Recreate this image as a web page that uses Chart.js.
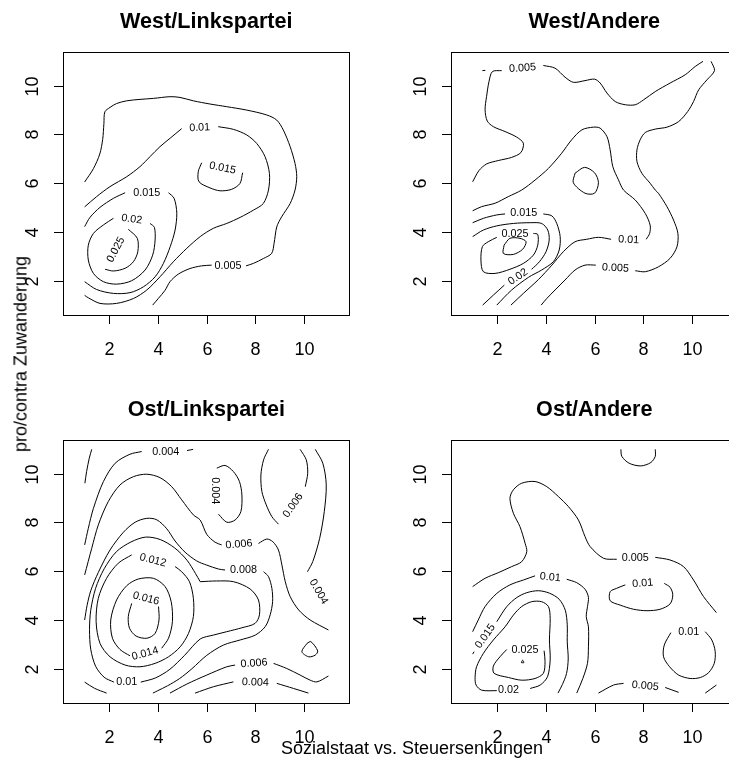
<!DOCTYPE html>
<html>
<head>
<meta charset="utf-8">
<script src="https://cdn.jsdelivr.net/npm/chart.js@4.4.0/dist/chart.umd.min.js"></script>
<style>
    html, body { margin: 0; padding: 0; background: #fff; }
    body { position: relative; width: 729px; height: 763px; overflow: hidden; }
    canvas { position: absolute; }
    .eje { position: absolute; font: 18px "Liberation Sans", Arial, sans-serif; color: #000; white-space: nowrap; }
</style>
</head>
<body>
<canvas id="p1" width="365" height="380" style="left:0;top:0"></canvas>
<canvas id="p2" width="385" height="380" style="left:365px;top:0"></canvas>
<canvas id="p3" width="365" height="383" style="left:0;top:380px"></canvas>
<canvas id="p4" width="385" height="383" style="left:365px;top:380px"></canvas>
<div class="eje" style="left:21px;top:354px;transform:translate(-50%,-50%) rotate(-90deg)">pro/contra Zuwanderung</div>
<div class="eje" style="left:412px;top:748px;transform:translate(-50%,-50%)">Sozialstaat vs. Steuersenkungen</div>
<script>
// ─────────────────────────────────────────────
//  Datos: curvas de nivel
//  [x, y] en unidades de los ejes, null = corte (etiqueta)
// ─────────────────────────────────────────────
const xTicks = [2, 4, 6, 8, 10];
const yTicks = [2, 4, 6, 8, 10];
const titles = ['West/Linkspartei', 'West/Andere', 'Ost/Linkspartei', 'Ost/Andere'];

// West/Linkspartei
const wl005 = [[1.0,6.05],[1.36,6.6],[1.62,7.2],[1.74,7.8],[1.79,8.45],[1.83,8.93],[2.04,9.11],[2.31,9.27],[2.72,9.38],[3.27,9.44],[3.82,9.48],[4.50,9.55],[4.91,9.52],[5.46,9.38],[6.14,9.25],[6.83,9.14],[7.65,9.00],[8.47,8.80],[8.88,8.59],[9.15,8.18],[9.43,7.50],[9.63,6.81],[9.70,6.27],[9.63,5.72],[9.43,5.17],[9.08,4.62],[8.88,4.21],[8.77,3.53],[8.67,3.12],[8.33,2.91],[7.92,2.71],[7.62,2.61],null,[6.21,2.64],[5.80,2.61],[5.32,2.50],[4.84,2.27],[4.50,1.96],[4.30,1.61],[4.02,1.27],[3.79,1.0]];
const wl010 = [[1.0,5.03],[1.49,5.45],[2.04,5.86],[2.73,6.27],[3.27,6.68],[3.68,7.09],[4.09,7.50],[4.51,7.85],[4.98,8.24],null,[6.48,8.32],[7.10,8.21],[7.65,7.98],[8.06,7.63],[8.40,7.09],[8.58,6.40],[8.54,5.72],[8.33,5.17],[7.93,4.90],[7.38,4.60],[6.83,4.35],[6.28,4.15],[5.74,3.81],[5.19,3.33],[4.64,2.78],[4.09,2.16],[3.55,1.62],[3.00,1.27],[2.31,1.07],[1.63,1.07],[1.15,1.30],[1.0,1.4]];
const wl015a = [[1.0,4.22],[1.22,4.60],[1.63,5.01],[2.18,5.38],[2.66,5.61],null,[4.44,5.61],[4.67,5.38],[4.78,4.77],[4.71,4.08],[4.51,3.40],[4.23,2.71],[3.89,2.16],[3.41,1.75],[2.86,1.51],[2.18,1.48],[1.49,1.64],[1.0,1.96]];
const wl015b = [[5.80,6.84],[5.66,6.47],[5.69,6.06],[6.14,5.81],[6.55,5.69],[7.03,5.75],[7.37,5.99],[7.48,6.43]];
const wl020 = [[3.68,4.35],[3.86,4.19],[3.89,3.67],[3.79,3.05],[3.48,2.44],[2.93,2.00],[2.31,1.86],[1.77,1.96],[1.36,2.30],[1.15,2.85],[1.15,3.46],[1.36,3.94],[1.77,4.29],[2.18,4.56]];
const wl025 = [[2.79,4.11],[3.16,3.74],[3.18,3.19],[3.00,2.78],[2.66,2.51],[2.18,2.40],[1.84,2.47]];
const wlLabels = [['0.005',6.88,2.61,0],['0.01',5.72,8.28,-3],['0.015',3.55,5.60,0],['0.015',6.66,6.62,12],['0.02',2.93,4.52,8],['0.025',2.28,3.27,-62]];

// West/Andere
const wa005a = [[1.0,6.06],[1.26,6.52],[1.57,6.79],[2.05,6.93],[2.60,7.06],[2.98,7.26],[3.08,7.64],[2.81,7.89],[2.33,8.12],[1.85,8.32],[1.60,8.55],[1.51,9.01],[1.57,9.55],[1.67,10.17],[1.81,10.58],[2.19,10.62],null,[3.90,10.83],[4.38,10.72],[4.79,10.35],[5.13,10.14],[5.61,10.21],[6.00,10.27],[6.23,10.11],[6.51,9.70],[6.85,9.35],[7.26,9.22],[7.67,9.22],[8.01,9.42],[8.49,9.76],[9.10,10.11],[9.72,10.45],[10.13,10.79],[10.45,11.0]];
const wa005b = [[10.78,11.0],[10.92,10.62],[10.61,10.24],[10.27,9.83],[10.06,9.35],[9.82,8.94],[9.45,8.53],[8.97,8.30],[8.49,8.22],[8.08,8.08],[7.87,7.78],[7.74,7.37],[7.74,6.89],[7.94,6.41],[8.28,6.00],[8.49,5.72],[8.62,5.59],[8.97,5.04],[9.24,4.49],[9.42,3.94],[9.38,3.39],[9.10,2.92],[8.62,2.57],[8.08,2.37],[7.67,2.41],null,[6.05,2.64],[5.61,2.64],[5.20,2.44],[4.79,2.03],[4.38,1.62],[4.04,1.27],[3.81,1.0]];
const wa005c = [[1.40,10.62],[1.52,10.63]];
const wa010a = [[1.0,4.87],[1.37,5.04],[1.92,5.18],[2.46,5.45],[3.01,5.72],[3.56,6.13],[4.11,6.61],[4.65,7.23],[5.06,7.78],[5.48,8.19],[5.95,8.30],[6.23,8.26],[6.51,7.91],[6.64,7.37],[6.75,6.68],[6.98,6.14],[7.19,5.72],[7.67,5.31],[8.08,4.76],[8.28,4.28],[8.26,3.94],[8.12,3.70],null,[6.68,3.70],[6.16,3.78],[5.68,3.70],[5.20,3.60],[4.72,3.19],[4.25,2.64],[3.70,2.05],[3.08,1.48],[2.57,1.0]];
const wa010b = [[5.20,6.41],[5.59,6.65],[6.00,6.43],[6.16,6.02],[6.00,5.59],[5.61,5.59],[5.13,6.02],[5.20,6.41]];
const wa015 = [[1.0,4.38],[1.44,4.56],[1.99,4.70],[2.33,4.74],null,[3.90,4.74],[4.25,4.66],[4.45,4.35],[4.59,3.81],[4.55,3.26],[4.31,2.78],[3.83,2.44],[3.29,2.14],[2.60,1.62],[1.99,1.0]];
const wa020 = [[1.0,3.81],[1.44,4.08],[1.99,4.25],[2.67,4.35],[3.36,4.38],[3.83,4.35],[4.08,4.08],[4.14,3.67],[4.01,3.19],[3.74,2.78],[3.42,2.47],null,[2.30,1.82],[1.85,1.41],[1.41,1.0]];
const wa025 = [[3.49,3.94],[3.67,3.90],[3.67,3.46],[3.49,3.05],[3.08,2.71],[2.53,2.47],[1.92,2.30],[1.44,2.37],[1.34,2.85],[1.40,3.40],[1.64,3.60],[1.99,3.78]];
const wa030 = [[2.29,3.46],[2.26,3.12],[2.67,3.08],[3.05,3.29],[3.19,3.60],[2.94,3.74],[2.53,3.74],[2.29,3.46]];
const waLabels = [['0.005',3.05,10.72,-4],['0.015',3.10,4.77,0],['0.025',2.74,3.90,0],['0.01',7.40,3.68,3],['0.005',6.86,2.52,3],['0.02',2.86,2.16,-35]];

// Ost/Linkspartei
const ol002 = [[1.29,11.0],[1.19,10.64],[1.08,10.09],[1.01,9.61]];
const ol004a = [[1.0,7.08],[1.15,7.76],[1.36,8.58],[1.77,9.68],[2.25,10.43],[2.86,10.80],[3.34,10.91],null,[5.2,10.95],[5.45,11.0]];
const ol004b = [[6.49,8.34],[6.83,8.01],[7.17,8.10],[7.41,8.45],[7.45,9.13],[7.35,9.68],[7.10,10.09],[6.76,10.34],[6.42,10.23]];
const ol004c = [[10.46,11.0],[10.77,10.43],[10.91,9.54],[10.83,8.45],[10.64,7.35],[10.36,6.40],[10.14,5.98]];
const ol004d = [[5.53,1.0],[6.28,1.26],[7.10,1.46],null,[8.88,1.40],[9.57,1.19],[10.18,1.0]];
const ol006a = [[8.54,11.0],[8.34,10.57],[8.23,9.95],[8.27,9.27],[8.45,8.72],[8.68,8.24],[8.95,7.93],null,[10.05,9.47],[10.15,10.02],[10.09,10.57],[9.84,11.0]];
const ol006b = [[1.0,5.85],[1.29,6.94],[1.56,7.90],[1.97,8.86],[2.45,9.54],[3.00,9.88],[3.55,9.98],[4.09,9.84],[4.57,9.47],[4.98,8.93],[5.46,8.31],[5.74,8.10],[6.01,7.51],[6.35,7.19],[6.62,7.08],null,[8.13,7.14],[8.47,7.32],[8.72,7.21],[8.95,6.87],[9.09,6.26],[9.23,5.57],[9.43,4.96],[9.78,4.41],[10.25,4.00],[11.0,3.59]];
const ol006c = [[4.50,1.0],[5.19,1.37],[6.01,1.74],[6.83,2.08],[7.17,2.15],null,[8.75,2.22],[9.29,2.01],[9.84,1.74],[10.25,1.53],[10.53,1.46],[11.0,1.70]];
const ol006d = [[10.12,3.04],[10.28,3.11],[10.56,2.73],[10.46,2.56],[10.19,2.49],[9.91,2.70],[10.12,3.04]];
const ol008a = [[1.0,4.0],[1.1,4.6],[1.25,5.2],[1.56,5.95],[2.04,6.87],[2.59,7.60],[3.07,8.01],[3.55,8.17],[3.96,8.11],[4.37,7.74],[4.71,7.24],[5.12,6.78],[5.60,6.42],[6.01,6.25],[6.49,6.09],[6.76,6.05],null,[8.34,5.98],[8.54,5.78],[8.68,5.30],[8.71,4.75],[8.61,4.21],[8.41,3.73],[8.00,3.38],[7.38,3.18],[6.69,2.97],[6.01,2.55],[5.4,2.0],[4.9,1.6],[4.4,1.3],[4.0,1.1],[3.8,1.0]];
const ol008b = [[1.0,1.45],[1.4,1.2],[1.9,1.0]];
const ol010 = [[5.74,5.57],[5.55,5.9],[5.2,6.45],[4.7,6.95],[4.1,7.3],[3.5,7.4],[2.9,7.2],[2.3,6.8],[1.8,6.1],[1.45,5.3],[1.25,4.4],[1.2,3.6],[1.25,2.8],[1.45,2.1],[1.8,1.65],[2.2,1.45],null,[3.3,1.45],[3.9,1.62],[4.5,1.98],[5.1,2.55],[5.74,3.22],[6.28,3.38],[6.83,3.52],[7.45,3.68],[7.99,3.86],[8.17,4.21],[8.13,4.82],[7.79,5.27],[7.11,5.57],[6.4,5.6],[5.74,5.57]];
const ol012 = [[4.71,6.19],[4.98,5.98],[5.30,5.57],[5.46,4.89],[5.46,4.14],[5.26,3.45],[4.92,2.90],[4.44,2.49],[3.89,2.22],[3.27,2.08],[2.66,2.15],[2.04,2.49],[1.63,3.04],[1.47,3.93],[1.56,4.89],[1.90,5.71],[2.38,6.33],[2.93,6.67]];
const ol014 = [[2.86,2.53],[2.45,2.79],[2.14,3.25],[2.07,4.00],[2.31,4.82],[2.73,5.41],[3.20,5.68],[3.82,5.71],[4.30,5.37],[4.55,4.75],[4.60,3.93],[4.44,3.25],[4.16,2.84]];
const ol016 = [[4.03,4.55],[4.05,4.00],[3.89,3.45],[3.55,3.25],[3.11,3.34],[2.84,3.66],[2.79,4.14],[2.93,4.68]];
const olLabels = [['0.004',4.33,10.91,0],['0.004',6.35,9.30,90],['0.006',9.55,8.70,-55],['0.006',7.33,7.10,-5],['0.012',3.80,6.45,15],['0.008',7.52,6.05,0],['0.004',10.60,5.16,60],['0.016',3.52,4.88,15],['0.014',3.48,2.62,-15],['0.006',7.95,2.22,-4],['0.01',2.73,1.44,0],['0.004',8.0,1.44,2]];

// Ost/Andere
const oa005a = [[1.0,5.37],[1.51,5.71],[2.05,5.94],[2.60,6.19],[3.01,6.39],[3.22,6.80],[3.15,7.15],[2.94,7.83],[2.67,8.38],[2.53,8.99],[2.67,9.34],[3.01,9.61],[3.56,9.68],[4.04,9.47],[4.52,9.06],[4.93,8.65],[5.34,8.10],[5.61,7.42],[5.82,7.01],[6.37,6.53],[6.91,6.49],null,[8.49,6.57],[9.10,6.46],[9.65,6.19],[10.06,5.64],[10.47,4.96],[11.0,4.30]];
const oa005b = [[7.08,11.0],[7.12,10.71],[7.42,10.43],[7.90,10.32],[8.31,10.46],[8.49,10.71],[8.49,11.0]];
const oa005c = [[6.16,1.0],[6.78,1.33],[7.19,1.40],null,[8.90,1.23],[9.45,1.03]];
const oa005d = [[10.54,1.0],[11.0,1.33]];
const oa010a = [[1.0,3.52],[1.23,4.00],[1.51,4.55],[1.99,5.09],[2.53,5.44],[3.08,5.64],[3.56,5.81],null,[4.86,5.67],[5.27,5.53],[5.61,5.26],[5.75,4.93],[5.71,4.55],[5.66,4.14],[5.75,3.72],[5.75,2.90],[5.71,2.22],[5.52,1.60],[5.27,1.0]];
const oa010b = [[7.26,5.44],[6.91,5.30],[6.64,5.16],[6.64,4.79],[7.05,4.61],[7.60,4.44],[8.15,4.38],[8.69,4.44],[9.10,4.66],[9.21,5.03],[9.10,5.34],[8.86,5.50]];
const oa010c = [[10.54,3.52],[10.81,3.18],[10.95,2.70],[10.91,2.22],[10.68,1.84],[10.34,1.64],[9.92,1.60],[9.45,1.74],[9.08,2.08],[8.83,2.49],[8.86,2.97],[9.13,3.48]];
const oa015 = [[1.0,2.60],[1.06,2.70],null,[1.99,3.93],[2.40,4.55],[2.81,4.92],[3.22,5.12],[3.70,5.2],[4.15,5.1],[4.55,4.85],[4.80,4.4],[4.88,3.8],[4.88,3.1],[4.92,2.4],[4.85,1.8],[4.68,1.35],[4.5,1.0]];
const oa020 = [[3.36,1.19],[3.77,1.33],[4.07,1.67],[4.18,2.36],[4.15,3.18],[4.18,4.07],[4.11,4.55],[3.83,4.75],[3.42,4.75],[3.01,4.55],[2.67,4.20],[2.33,3.72],[1.85,3.18],[1.44,2.63],[1.16,2.08],[1.10,1.64],[1.14,1.33],[1.37,1.12],[1.99,1.10]];
const oa025 = [[3.93,2.74],[3.97,2.29],[3.90,1.81],[3.56,1.60],[3.01,1.53],[2.47,1.64],[1.88,1.81],[1.85,2.11],[2.12,2.49],[2.40,2.79]];
const oa030 = [[3.0,2.25],[3.1,2.25],[3.05,2.35],[3.0,2.25]];
const oaLabels = [['0.005',7.67,6.53,0],['0.01',4.18,5.75,5],['0.01',7.98,5.50,-5],['0.015',1.52,3.33,-55],['0.01',9.86,3.50,0],['0.025',3.15,2.76,0],['0.02',2.47,1.12,0],['0.005',8.08,1.29,5]];

// ─────────────────────────────────────────────
//  Utilidades
// ─────────────────────────────────────────────
const FONT = '"Liberation Sans", Arial, Helvetica, sans-serif';

/** Parte una curva en tramos continuos (null = corte). */
function tramos(curva) {
    const out = [];
    let cur = [];
    curva.forEach(p => {
        if (p === null) { if (cur.length > 1) out.push(cur); cur = []; }
        else cur.push({ x: p[0], y: p[1] });
    });
    if (cur.length > 1) out.push(cur);
    return out;
}

// Marco, ejes, título y etiquetas de nivel al estilo R
const marcoR = {
    id: 'marcoR',
    afterDatasetsDraw(chart, args, opts) {
        const { ctx, chartArea: a, scales: { x, y } } = chart;
        ctx.save();
        ctx.strokeStyle = '#000';
        ctx.fillStyle = '#000';
        ctx.lineWidth = 1;
        ctx.strokeRect(Math.round(a.left) + 0.5, Math.round(a.top) + 0.5,
                       Math.round(a.right - a.left), Math.round(a.bottom - a.top));

        ctx.font = '18px ' + FONT;
        ctx.textAlign = 'center';
        ctx.textBaseline = 'alphabetic';
        xTicks.forEach(v => {
            const px = Math.round(x.getPixelForValue(v)) + 0.5;
            ctx.beginPath();
            ctx.moveTo(px, Math.round(a.bottom));
            ctx.lineTo(px, Math.round(a.bottom) + 9);
            ctx.stroke();
            ctx.fillText(String(v), px, a.bottom + 40);
        });
        yTicks.forEach(v => {
            const py = Math.round(y.getPixelForValue(v)) + 0.5;
            ctx.beginPath();
            ctx.moveTo(Math.round(a.left) - 9, py);
            ctx.lineTo(Math.round(a.left), py);
            ctx.stroke();
            ctx.save();
            ctx.translate(a.left - 25, py);
            ctx.rotate(-Math.PI / 2);
            ctx.fillText(String(v), 0, 0);
            ctx.restore();
        });

        ctx.font = 'bold 21.6px ' + FONT;
        ctx.fillText(opts.titulo, (a.left + a.right) / 2, a.top - 24);

        ctx.font = '10.8px ' + FONT;
        ctx.textBaseline = 'middle';
        opts.etiquetas.forEach(([t, lx, ly, ang]) => {
            ctx.save();
            ctx.translate(x.getPixelForValue(lx), y.getPixelForValue(ly));
            ctx.rotate(ang * Math.PI / 180);
            ctx.fillText(t, 0, 0);
            ctx.restore();
        });
        ctx.restore();
    }
};

/**
 * Dibuja un panel de curvas de nivel.
 * @param {string} id       - id del canvas
 * @param {number} left     - borde izq. del área de datos (px del canvas)
 * @param {number} top      - borde sup. del área de datos
 */
function panel(id, titulo, curvas, etiquetas, left, top) {
    const canvas = document.getElementById(id);
    const W = 286.2, H = 263.25;
    const datasets = [];
    curvas.forEach(c => tramos(c).forEach(seg => datasets.push({
        data: seg,
        showLine: true,
        borderColor: '#000',
        borderWidth: 1,
        pointRadius: 0,
        tension: 0.3,
        fill: false,
    })));

    new Chart(canvas, {
        type: 'scatter',
        data: { datasets },
        options: {
            responsive: false,
            animation: false,
            events: [],
            layout: { padding: { left, top, right: canvas.width - left - W, bottom: canvas.height - top - H } },
            scales: {
                x: { type: 'linear', display: false, min: 0.12, max: 11.86 },
                y: { type: 'linear', display: false, min: 0.6, max: 11.4 }
            },
            plugins: {
                legend: { display: false },
                tooltip: { enabled: false },
                marcoR: { titulo, etiquetas }
            }
        },
        plugins: [marcoR]
    });
}

panel('p1', titles[0], [wl005, wl010, wl015a, wl015b, wl020, wl025], wlLabels, 63.2, 51.6);
panel('p2', titles[1], [wa005a, wa005b, wa005c, wa010a, wa010b, wa015, wa020, wa025, wa030], waLabels, 86.2, 51.6);
panel('p3', titles[2], [ol002, ol004a, ol004b, ol004c, ol004d, ol006a, ol006b, ol006c, ol006d, ol008a, ol008b, ol010, ol012, ol014, ol016], olLabels, 63.2, 59.6);
panel('p4', titles[3], [oa005a, oa005b, oa005c, oa005d, oa010a, oa010b, oa010c, oa015, oa020, oa025, oa030], oaLabels, 86.2, 59.6);
</script>
</body>
</html>
